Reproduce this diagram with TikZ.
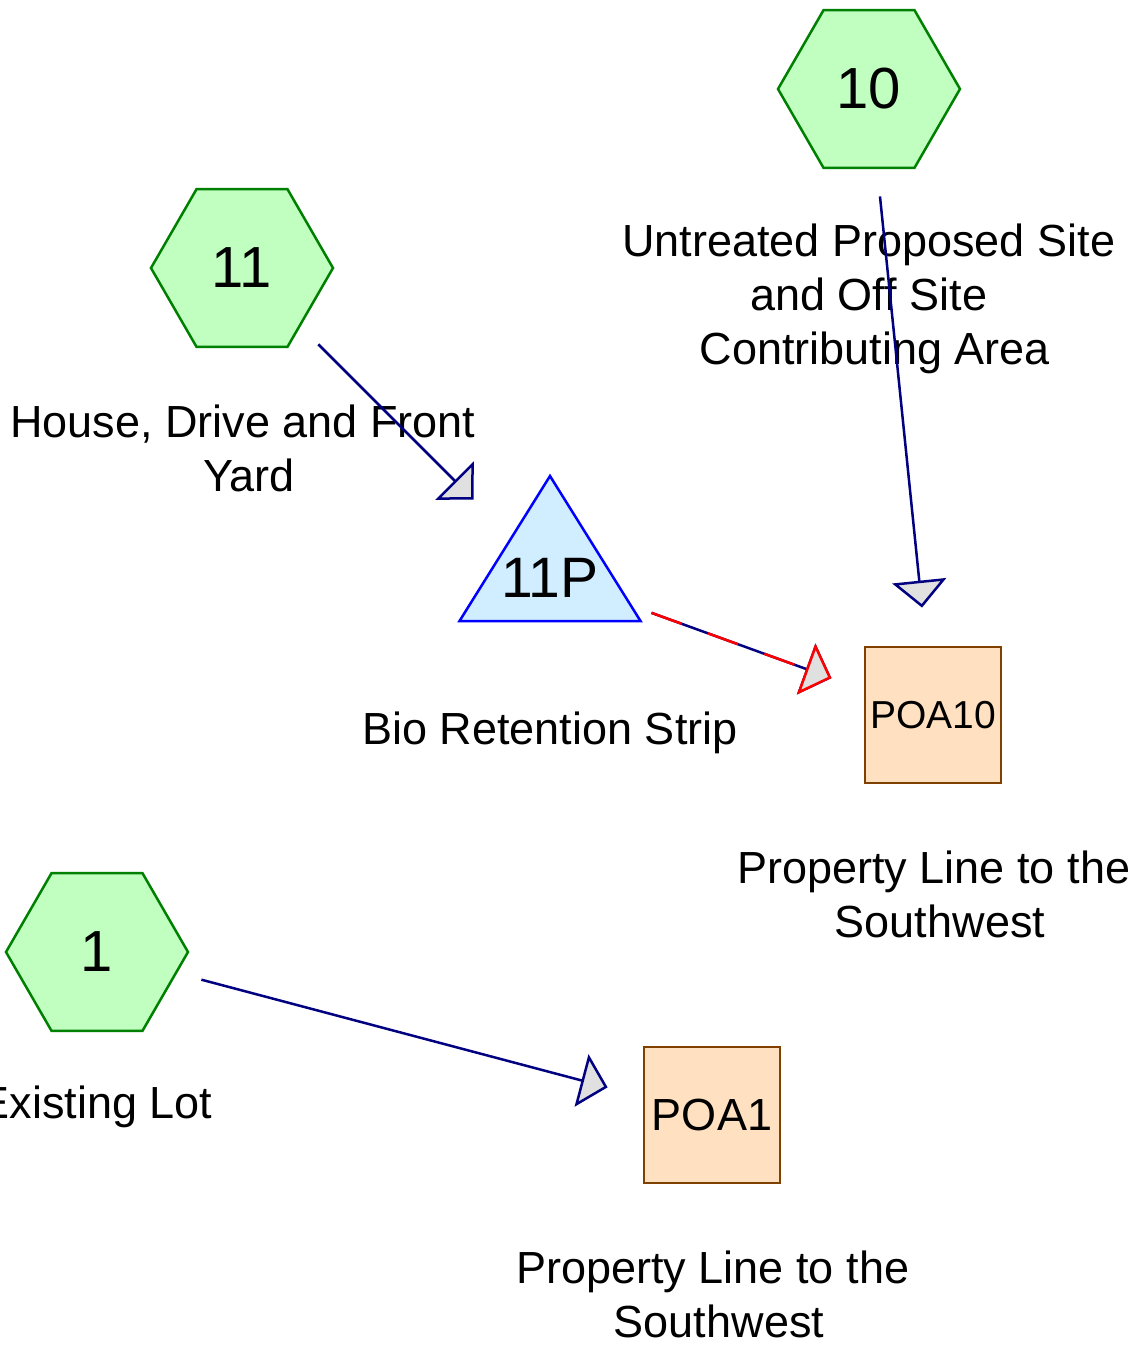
\documentclass[tikz,border=0pt]{standalone}
\usepackage{fontspec}
\setmainfont{Liberation Sans}
\usetikzlibrary{shapes.geometric,arrows.meta}
\definecolor{hexfill}{RGB}{192,255,192}
\definecolor{hexline}{RGB}{0,128,0}
\definecolor{trifill}{RGB}{208,238,255}
\definecolor{triline}{RGB}{0,0,255}
\definecolor{boxfill}{RGB}{255,224,192}
\definecolor{boxline}{RGB}{128,64,0}
\definecolor{flowline}{RGB}{0,0,128}
\definecolor{tipfill}{RGB}{224,224,224}
\definecolor{ovline}{RGB}{255,0,0}
\newcommand\trsp{\kern0.278em}
\tikzset{
  hexnode/.style={regular polygon, regular polygon sides=6, minimum size=182pt,
    inner sep=0pt, outer sep=0pt, draw=hexline, fill=hexfill, line width=2.5pt,
    font=\fontsize{58}{60}\selectfont},
  boxnode/.style={rectangle, minimum size=136pt, inner sep=0pt, outer sep=0pt,
    draw=boxline, fill=boxfill, line width=2.5pt},
  tripath/.style={draw=triline, fill=trifill, line width=2.5pt, line join=miter},
  lbl/.style={align=center, anchor=base, inner sep=0pt,
    font=\fontsize{45}{54}\selectfont},
  flow/.style={draw=flowline, line width=2.5pt, shorten <=108pt, shorten >=108pt,
    -{Triangle[length=27pt, width=54pt, fill=tipfill, line join=miter]}},
  overflow/.style={flow, draw=ovline, dash pattern=on 32pt off 28pt},
}
\begin{document}
\begin{tikzpicture}[x=1pt, y=-1pt]
\useasboundingbox (0,0) rectangle (1128,1353);
% hexagons
\node[hexnode] (n10) at (869,89) {10};
\node[hexnode] (n11) at (242,268) {11};
\node[hexnode] (n1) at (97,952) {1};
% pond triangle
\coordinate (c11P) at (550,576);
\draw[tripath] (c11P) ++(0,-100) -- ++(90.5,145) -- ++(-181,0) -- cycle;
\node[font=\fontsize{57}{60}\selectfont, inner sep=0pt] (n11P) at (550,578) {11P};
% boxes
\node[boxnode, font=\fontsize{39}{42}\selectfont] (poa10) at (933,715) {POA10};
\node[boxnode, font=\fontsize{45}{48}\selectfont] (poa1) at (712,1115) {POA1};
% labels (anchor base = last line's baseline)
\node[lbl] (l10) at (875,364) {Untreated Proposed Site\trsp\\and Off Site\trsp\\Contributing Area};
\node[lbl] (l11) at (249,491) {House, Drive and Front\trsp\\Yard};
\node[lbl] (l11P) at (550,744) {Bio Retention Strip};
\node[lbl] (lpoa10) at (940,937) {Property Line to the\trsp\\Southwest};
\node[lbl] (l1) at (96,1118) {Existing Lot};
\node[lbl] (lpoa1) at (719,1337) {Property Line to the\trsp\\Southwest};
% connectors
\draw[flow] (n10.center) -- (poa10.center);
\draw[flow] (n11.center) -- (c11P);
\draw[flow] (n1.center) -- (poa1.center);
\draw[flow] (c11P) -- (poa10.center);
\draw[overflow] (c11P) -- (poa10.center);
\end{tikzpicture}
\end{document}
